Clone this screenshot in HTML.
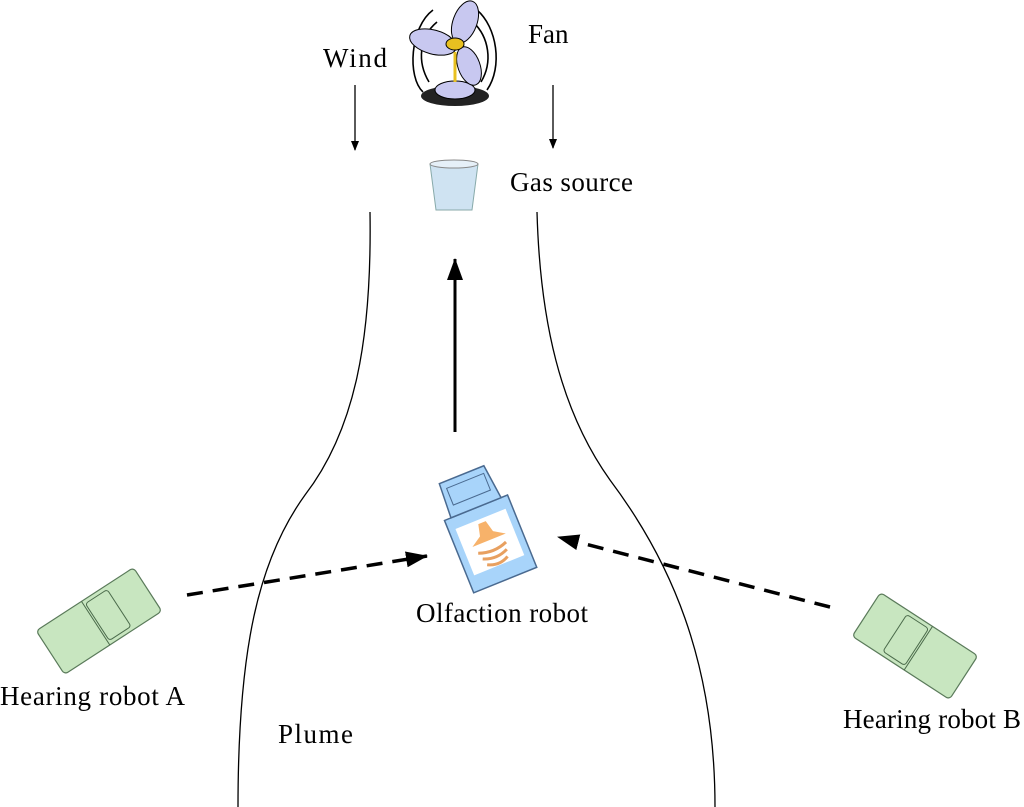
<!DOCTYPE html>
<html><head><style>html,body{margin:0;padding:0;background:#fff}svg{display:block}text{font-family:"Liberation Serif",serif;font-size:27px;fill:#000}</style></head><body>
<svg width="1024" height="807" viewBox="0 0 1024 807" xmlns="http://www.w3.org/2000/svg">
<defs>
<marker id="ah" markerWidth="10" markerHeight="10" refX="9" refY="5" orient="auto" markerUnits="userSpaceOnUse"><path d="M0,1 L10,5 L0,9 Z" fill="#000"/></marker>
<marker id="ahb" markerWidth="22" markerHeight="16" refX="21" refY="8" orient="auto" markerUnits="userSpaceOnUse"><path d="M0,0 L22,8 L0,16 Z" fill="#000"/></marker>
</defs>
<path d="M370,212 C372,340 355,430 305,495 C258,560 238,650 238,807" fill="none" stroke="#000" stroke-width="1.3"/>
<path d="M537,212 C540,320 560,410 610,480 C670,560 715,660 715,807" fill="none" stroke="#000" stroke-width="1.3"/>
<line x1="355" y1="85" x2="355" y2="150" stroke="#000" stroke-width="1.3" marker-end="url(#ah)"/>
<line x1="553" y1="85" x2="553" y2="148" stroke="#000" stroke-width="1.3" marker-end="url(#ah)"/>
<line x1="455" y1="432" x2="455" y2="259" stroke="#000" stroke-width="3" marker-end="url(#ahb)"/>
<line x1="187" y1="595" x2="427" y2="556" stroke="#000" stroke-width="3.5" stroke-dasharray="16,10" marker-end="url(#ahb)"/>
<line x1="830" y1="607" x2="558" y2="537" stroke="#000" stroke-width="3.5" stroke-dasharray="16,10" marker-end="url(#ahb)"/>
<g transform="translate(455,52)">
<path d="M-32,40 C-48,25 -45,-25 -22,-42 M32,38 C48,15 42,-25 22,-42 M-26,30 C-38,10 -36,-15 -18,-30 M26,30 C38,10 34,-15 18,-30" stroke="#000" stroke-width="1.6" fill="none"/>
<ellipse cx="0" cy="44" rx="34" ry="10" fill="#222"/>
<ellipse cx="0" cy="38" rx="20" ry="9" fill="#c8c8f0" stroke="#000"/>
<ellipse cx="-22" cy="-10" rx="24" ry="12" fill="#c8c8f0" stroke="#000" transform="rotate(15 -22 -10)"/>
<ellipse cx="10" cy="-30" rx="12" ry="22" fill="#c8c8f0" stroke="#000" transform="rotate(20 10 -30)"/>
<ellipse cx="14" cy="14" rx="11" ry="20" fill="#c8c8f0" stroke="#000" transform="rotate(-20 14 14)"/>
<ellipse cx="0" cy="-8" rx="9" ry="6" fill="#e8c020" stroke="#000"/>
<line x1="0" y1="0" x2="0" y2="30" stroke="#e8c020" stroke-width="3"/>
</g>
<path d="M430,164 L478,164 L472,210 L436,210 Z" fill="#cfe3f2" stroke="#8aa" stroke-width="1"/>
<ellipse cx="454" cy="164" rx="24" ry="4" fill="#e6f0f8" stroke="#888"/>
<g transform="translate(485,530) rotate(-22)">
<rect x="-34" y="-24" width="68" height="78" fill="#a8d4fa" stroke="#4a6a90" stroke-width="1.5"/>
<rect x="-27" y="-12" width="54" height="50" fill="#fff"/>
<path d="M-27,-24 L-25,-60 L23,-60 L27,-24 Z" fill="#a8d4fa" stroke="#4a6a90" stroke-width="1.5"/>
<rect x="-20" y="-53" width="40" height="18" fill="#a8d4fa" stroke="#4a6a90"/>
<path d="M-4,-8 L4,-8 L7,4 L18,11 L-18,11 L-7,4 Z" fill="#f7b26a"/>
<path d="M-15,19 Q0,25 15,19 M-13,26 Q0,32 13,26 M-11,33 Q0,39 11,33" stroke="#e8a060" stroke-width="3" fill="none"/>
</g>
<g transform="translate(99,621) rotate(-33)">
<rect x="-58" y="-26" width="116" height="52" rx="4" fill="#c8e6c0" stroke="#5a7a5a" stroke-width="1.2"/>
<rect x="-2" y="-22" width="26" height="44" rx="3" fill="#c8e6c0" stroke="#4a6a4a"/>
<line x1="-4" y1="-26" x2="-4" y2="26" stroke="#4a6a4a"/>
</g>
<g transform="translate(915,646) rotate(33)">
<rect x="-58" y="-26" width="116" height="52" rx="4" fill="#c8e6c0" stroke="#5a7a5a" stroke-width="1.2"/>
<rect x="-24" y="-22" width="26" height="44" rx="3" fill="#c8e6c0" stroke="#4a6a4a"/>
<line x1="4" y1="-26" x2="4" y2="26" stroke="#4a6a4a"/>
</g>
<text x="323" y="67" textLength="64">Wind</text>
<text x="528" y="43">Fan</text>
<text x="510" y="191" textLength="123">Gas source</text>
<text x="416" y="622" textLength="172">Olfaction robot</text>
<text x="0" y="705" textLength="185">Hearing robot A</text>
<text x="278" y="743" textLength="75">Plume</text>
<text x="843" y="728" textLength="178">Hearing robot B</text>
</svg>
</body></html>
